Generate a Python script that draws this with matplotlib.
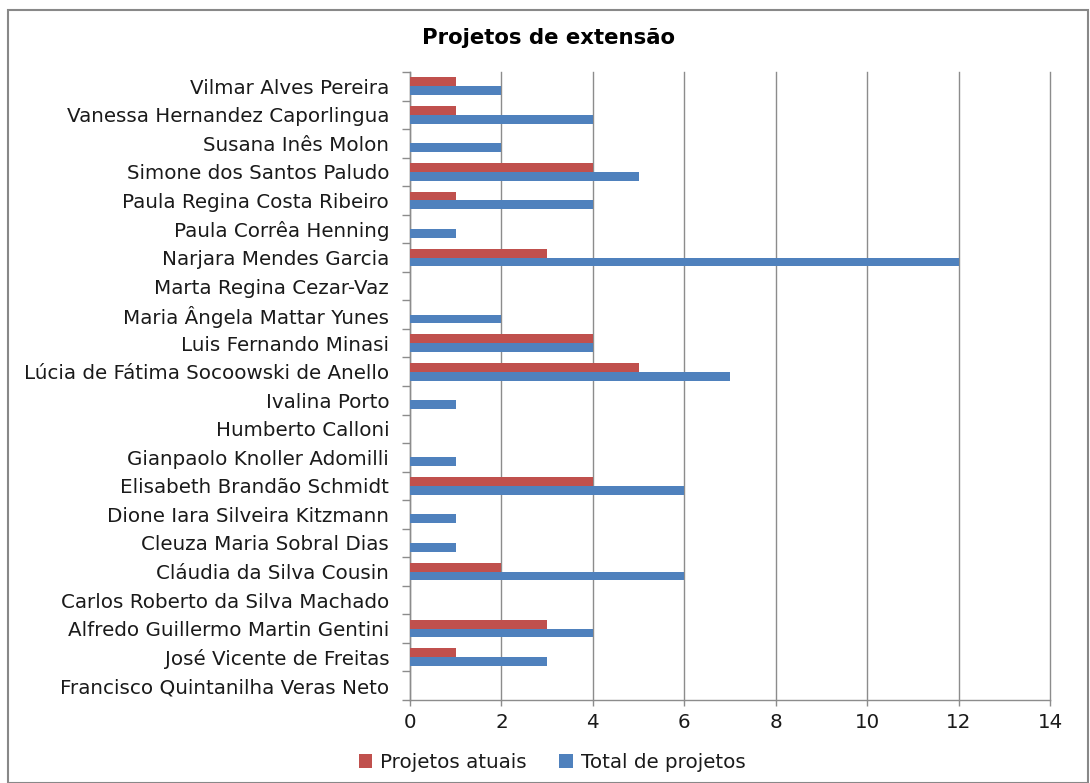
import matplotlib
matplotlib.use("Agg")
import matplotlib.pyplot as plt
from matplotlib.patches import Rectangle
import numpy as np

plt.rcParams['font.family'] = ['DejaVu Sans']

names = [
    "Vilmar Alves Pereira",
    "Vanessa Hernandez Caporlingua",
    "Susana Inês Molon",
    "Simone dos Santos Paludo",
    "Paula Regina Costa Ribeiro",
    "Paula Corrêa Henning",
    "Narjara Mendes Garcia",
    "Marta Regina Cezar-Vaz",
    "Maria Ângela Mattar Yunes",
    "Luis Fernando Minasi",
    "Lúcia de Fátima Socoowski de Anello",
    "Ivalina Porto",
    "Humberto Calloni",
    "Gianpaolo Knoller Adomilli",
    "Elisabeth Brandão Schmidt",
    "Dione Iara Silveira Kitzmann",
    "Cleuza Maria Sobral Dias",
    "Cláudia da Silva Cousin",
    "Carlos Roberto da Silva Machado",
    "Alfredo Guillermo Martin Gentini",
    "José Vicente de Freitas",
    "Francisco Quintanilha Veras Neto",
]
atuais = [1, 1, 0, 4, 1, 0, 3, 0, 0, 4, 5, 0, 0, 0, 4, 0, 0, 2, 0, 3, 1, 0]
total = [2, 4, 2, 5, 4, 1, 12, 0, 2, 4, 7, 1, 0, 1, 6, 1, 1, 6, 0, 4, 3, 0]
xticks = [0, 2, 4, 6, 8, 10, 12, 14]

RED = "#C0504D"
BLUE = "#4F81BD"
GRID = "#8C8C8C"
TXT = "#1a1a1a"
FS = 14.3

fig = plt.figure(figsize=(10.9, 7.83), dpi=100)
ax = fig.add_axes([410/1090, 1 - 700/783, 640/1090, 628/783])

n = len(names)
y = np.arange(n)[::-1]  # top item first
h = 0.31
ax.barh(y + h/2, atuais, height=h, color=RED, label="Projetos atuais", zorder=3)
ax.barh(y - h/2, total, height=h, color=BLUE, label="Total de projetos", zorder=3)

ax.set_xlim(0, 14)
ax.set_ylim(-0.5, n - 0.5)
ax.set_xticks(xticks)
ax.set_xticklabels([str(v) for v in xticks], fontsize=FS, color=TXT)
ax.tick_params(axis='x', length=4, width=1, color=GRID, direction='out', pad=5)
ax.set_yticks(y)
ax.set_yticklabels(names, fontsize=FS, color=TXT)
ax.tick_params(axis='y', which='major', length=0, pad=15)
ax.set_yticks(np.arange(n + 1) - 0.5, minor=True)
ax.tick_params(axis='y', which='minor', length=6, width=1, color=GRID, direction='out')

ax.grid(axis='x', color=GRID, linewidth=1, zorder=0)
for gl in ax.get_xgridlines():
    gl.set_clip_on(False)
for s in ['top', 'right']:
    ax.spines[s].set_visible(False)
for s in ['left', 'bottom']:
    ax.spines[s].set_color(GRID)
    ax.spines[s].set_linewidth(1)

fig.text(548/1090, 1 - 38/783, "Projetos de extensão", ha='center', va='center',
         fontsize=15.3, fontweight='bold', color="#000000")

fig.legend(loc='center', bbox_to_anchor=(552/1090, 1 - 762/783), ncol=2, frameon=False,
           fontsize=FS, handlelength=0.7, handleheight=0.7, columnspacing=1.6,
           handletextpad=0.4, labelcolor=TXT)

fig.patches.append(Rectangle((8/1090, 0), 1080/1090, 1 - 10/783, transform=fig.transFigure,
                             fill=False, edgecolor="#888888", linewidth=1.5))

fig.savefig("out.png", dpi=100, facecolor="white")
